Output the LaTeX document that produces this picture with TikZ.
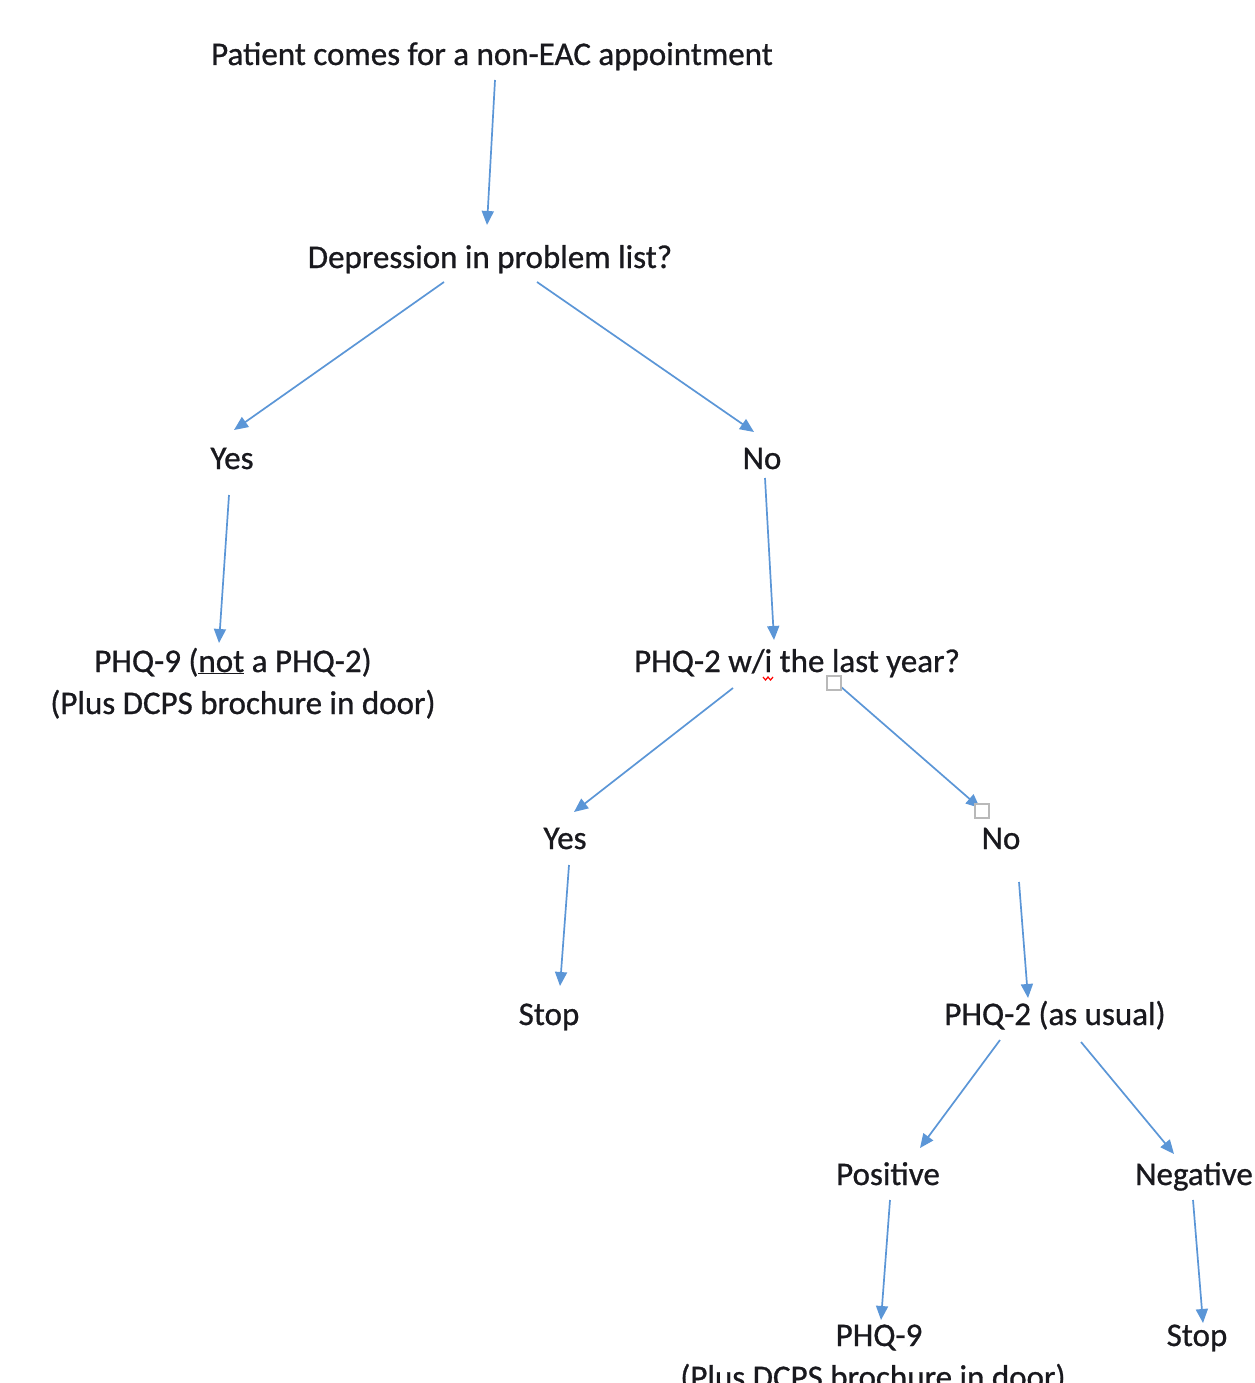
\documentclass[tikz,border=0pt]{standalone}
\usepackage{fontspec}
\setmainfont{Carlito}[FakeBold=0.8]
\usetikzlibrary{arrows.meta,calc}
\definecolor{arrblue}{RGB}{91,150,215}
\definecolor{txt}{RGB}{25,25,30}
\begin{document}
\begin{tikzpicture}[x=1pt,y=-1pt,
  lbl/.style={anchor=base,inner sep=0pt,font=\fontsize{33}{42}\selectfont,text=txt},
  arr/.style={draw=arrblue,line width=1.7pt,-{Triangle[length=14pt,width=12pt]}},
  handle/.style={draw=gray!55,line width=1.6pt,fill=white,minimum size=14pt,inner sep=0pt}]
\useasboundingbox (0,0) rectangle (1254,1383);
\clip (0,0) rectangle (1254,1383);
\fill[white] (0,0) rectangle (1254,1383);

\node[lbl] (start) at (492,65) {Patient comes for a non-EAC appointment};
\node[lbl] (dep) at (490,268) {Depression in problem list?};
\node[lbl] (yes1) at (232,469) {Yes};
\node[lbl] (no1) at (762,469) {No};
\node[lbl] (phq9a) at (233,672) {PHQ-9 (\underline{not} a PHQ-2)};
\node[lbl] (plus1) at (243,714) {(Plus DCPS brochure in door)};
\node[lbl] (phq2q) at (797,672) {PHQ-2 w/i the last year?};
\node[lbl] (yes2) at (565,849) {Yes};
\node[lbl] (no2) at (1001,849) {No};
\node[lbl] (stop1) at (549,1025) {Stop};
\node[lbl] (phq2u) at (1055,1025) {PHQ-2 (as usual)};
\node[lbl] (pos) at (888,1185) {Positive};
\node[lbl,anchor=base west] (neg) at (1135,1185) {Negative};
\node[lbl] (phq9c) at (879,1346) {PHQ-9};
\node[lbl] (plus2) at (873,1388) {(Plus DCPS brochure in door)};
\node[lbl] (stop2) at (1197,1346) {Stop};

\draw[arr] ($(start.base)+(3,15)$) -- ($(dep.base)+(-3,-43)$);
\draw[arr] ($(dep.base)+(-46,14)$) -- ($(yes1.base)+(2,-39)$);
\draw[arr] ($(dep.base)+(47,14)$) -- ($(no1.base)+(-8,-37)$);
\draw[arr] ($(yes1.base)+(-3,26)$) -- ($(phq9a.base)+(-14,-29)$);
\draw[arr] ($(no1.base)+(3,9)$) -- ($(phq2q.base)+(-23,-32)$);
\draw[arr] ($(phq2q.base)+(-64,16)$) -- ($(yes2.base)+(9,-37)$);
\draw[arr] ($(phq2q.base)+(43,14)$) -- ($(no2.base)+(-21,-41)$);
\draw[arr] ($(yes2.base)+(4,16)$) -- ($(stop1.base)+(11,-39)$);
\draw[arr] ($(no2.base)+(18,33)$) -- ($(phq2u.base)+(-27,-27)$);
\draw[arr] ($(phq2u.base)+(-55,15)$) -- ($(pos.base)+(32,-37)$);
\draw[arr] ($(phq2u.base)+(26,17)$) -- ($(neg.base west)+(39,-31)$);
\draw[arr] ($(pos.base)+(2,15)$) -- ($(phq9c.base)+(2,-26)$);
\draw[arr] ($(neg.base west)+(58,15)$) -- ($(stop2.base)+(6,-23)$);

\node[handle] (h1) at ($(phq2q.base)+(37,11)$) {};
\node[handle] (h2) at ($(no2.base)+(-19,-38)$) {};

\draw[red,line width=1.2pt] (763,677) -- (765.5,680) -- (768,677) -- (770.5,680) -- (773,677);
\end{tikzpicture}
\end{document}
